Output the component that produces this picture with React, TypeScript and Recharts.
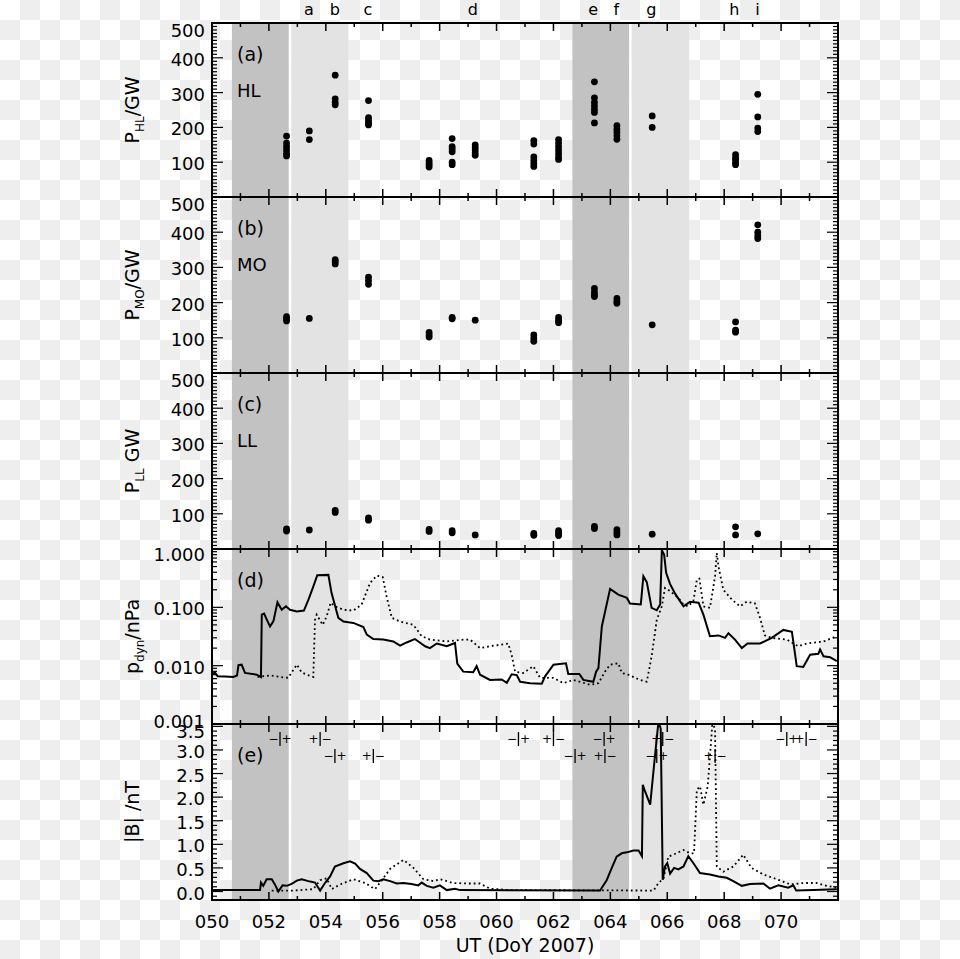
import React from 'react';
import { ComposedChart, Line, Scatter, XAxis, YAxis, ReferenceArea, ReferenceDot } from 'recharts';

const FONT = '"DejaVu Sans", "Liberation Sans", sans-serif';
const W = 960;
const H = 959;
const PLOT_LEFT = 212;
const PLOT_RIGHT = 838;

// ---------------- axes / labels ----------------
const dayDomain: [number, number] = [50, 72];
const dayLabelTicks = [50, 52, 54, 56, 58, 60, 62, 64, 66, 68, 70];
const powerLabelTicks = [100, 200, 300, 400, 500];
const pdynLabelTicks = [0.001, 0.01, 0.1, 1];
const bLabelTicks = [0, 0.5, 1, 1.5, 2, 2.5, 3, 3.5];

// shaded intervals (DoY)
const darkBands = [[50.7, 52.7], [62.665, 64.66]];
const gapBands = [[52.7, 52.785], [64.66, 64.75]];
const lightBands = [[52.785, 54.79], [64.75, 66.77]];

const eventLetters = ['a', 'b', 'c', 'd', 'e', 'f', 'g', 'h', 'i'];
const eventDays = [53.41, 54.32, 55.48, 59.17, 63.4, 64.21, 65.44, 68.36, 69.17];

// ---------------- power observations ----------------
const obsDays = [52.62, 53.42, 54.33, 55.5, 57.63, 58.44, 59.25, 61.31, 62.18, 63.44, 64.23, 65.47, 68.4, 69.18];
const hlPower = [
  [175, 155, 145, 135, 125, 118],
  [190, 165],
  [350, 282, 272, 265],
  [277, 228, 220, 213, 207],
  [105, 98, 92, 86],
  [168, 145, 138, 130, 100, 93],
  [150, 142, 135, 127, 120],
  [162, 152, 115, 105, 96, 88],
  [165, 155, 145, 135, 125, 115, 108],
  [331, 285, 272, 262, 252, 243, 213],
  [205, 195, 186, 176, 166],
  [233, 200],
  [122, 113, 106, 99, 93],
  [295, 230, 198, 188],
];
const moPower = [
  [160, 154, 148],
  [155],
  [322, 316, 310],
  [272, 262, 252],
  [115, 108, 102],
  [158, 154],
  [150],
  [108, 98, 90],
  [158, 150, 143],
  [240, 230, 222, 217],
  [212, 204, 198],
  [137],
  [145, 122, 116],
  [421, 400, 390, 382],
];
const llPower = [
  [57, 51],
  [54],
  [110, 104],
  [88, 82],
  [56, 50],
  [52, 46],
  [40],
  [44, 39],
  [52, 45, 38],
  [64, 58],
  [55, 47, 40],
  [42],
  [63, 40],
  [43],
];

// ---------------- dynamic pressure (nPa) ----------------
const pdynSolid: [number, number][] = [
  [50.0, 0.0072], [50.1, 0.0076], [50.2, 0.0066], [50.45, 0.0065], [50.75, 0.0064], [50.88, 0.0068],
  [50.93, 0.0102], [51.04, 0.0104], [51.16, 0.0075], [51.57, 0.007], [51.72, 0.0064], [51.75, 0.075],
  [51.83, 0.078], [51.95, 0.058], [52.04, 0.047], [52.16, 0.058], [52.3, 0.122], [52.45, 0.091],
  [52.6, 0.104], [52.74, 0.091], [52.98, 0.085], [53.23, 0.088], [53.39, 0.136], [53.55, 0.22],
  [53.7, 0.355], [54.09, 0.36], [54.2, 0.177], [54.44, 0.066], [54.62, 0.057], [54.97, 0.054],
  [55.32, 0.046], [55.44, 0.034], [55.67, 0.0286], [56.02, 0.028], [56.37, 0.026], [56.61, 0.022],
  [56.84, 0.025], [57.13, 0.0286], [57.49, 0.0215], [57.66, 0.02], [57.9, 0.024], [58.25, 0.0215],
  [58.54, 0.0245], [58.62, 0.0108], [58.83, 0.0079], [59.18, 0.0077], [59.3, 0.0098], [59.42, 0.007],
  [59.77, 0.0057], [60.18, 0.0058], [60.36, 0.0051], [60.53, 0.0071], [60.71, 0.0069], [60.83, 0.0053],
  [61.18, 0.005], [61.59, 0.0049], [61.7, 0.0065], [62.0, 0.0104], [62.44, 0.011], [62.52, 0.0072],
  [62.91, 0.0072], [63.05, 0.0057], [63.4, 0.0053], [63.5, 0.0079], [63.58, 0.0091], [63.7, 0.047],
  [63.99, 0.207], [64.28, 0.165], [64.58, 0.145], [64.69, 0.116], [65.07, 0.112], [65.16, 0.341],
  [65.28, 0.27], [65.45, 0.098], [65.63, 0.089], [65.75, 0.112], [65.81, 0.95], [65.89, 0.8],
  [65.96, 0.39], [66.1, 0.25], [66.28, 0.17], [66.57, 0.104], [66.8, 0.125], [67.1, 0.12],
  [67.27, 0.075], [67.5, 0.032], [67.8, 0.033], [68.03, 0.03], [68.15, 0.036], [68.38, 0.028],
  [68.62, 0.02], [68.82, 0.024], [69.26, 0.024], [69.67, 0.03], [70.08, 0.041], [70.38, 0.038],
  [70.55, 0.0098], [70.78, 0.0095], [71.02, 0.0154], [71.31, 0.016], [71.37, 0.019], [71.49, 0.0145],
  [71.72, 0.014], [71.96, 0.012],
];
const pdynDotted: [number, number][] = [
  [51.6, 0.0064], [52.04, 0.0068], [52.39, 0.0064], [52.68, 0.0062], [52.98, 0.0104], [53.15, 0.0077],
  [53.33, 0.007], [53.56, 0.0064], [53.62, 0.061], [53.68, 0.075], [53.89, 0.05], [54.03, 0.07],
  [54.17, 0.12], [54.32, 0.104], [54.62, 0.091], [54.97, 0.088], [55.26, 0.112], [55.55, 0.26],
  [55.79, 0.35], [56.0, 0.33], [56.14, 0.15], [56.32, 0.066], [56.61, 0.057], [57.08, 0.05],
  [57.37, 0.032], [57.66, 0.028], [58.25, 0.026], [58.83, 0.028], [59.07, 0.028], [59.42, 0.02],
  [59.77, 0.0215], [60.41, 0.024], [60.53, 0.0154], [60.65, 0.0079], [60.94, 0.0075], [61.29, 0.0098],
  [61.53, 0.0062], [62.0, 0.0062], [62.35, 0.005], [62.7, 0.0057], [63.29, 0.0047], [63.58, 0.005],
  [63.81, 0.0079], [63.99, 0.0104], [64.28, 0.011], [64.4, 0.0075], [64.63, 0.007], [65.04, 0.0057],
  [65.28, 0.0053], [65.45, 0.0144], [65.63, 0.061], [65.81, 0.104], [65.92, 0.215], [66.1, 0.19],
  [66.39, 0.145], [66.57, 0.112], [66.74, 0.104], [66.92, 0.13], [67.04, 0.3], [67.13, 0.31],
  [67.27, 0.104], [67.5, 0.098], [67.68, 0.34], [67.74, 0.86], [67.8, 0.5], [67.97, 0.2],
  [68.27, 0.136], [68.56, 0.104], [68.79, 0.125], [69.08, 0.117], [69.26, 0.066], [69.43, 0.033],
  [69.67, 0.03], [70.2, 0.028], [70.6, 0.0215], [70.9, 0.024], [71.49, 0.026], [71.96, 0.032],
];

// ---------------- |B| (nT) ----------------
const bSolid: [number, number][] = [
  [50.0, 0.03], [51.69, 0.03], [51.72, 0.19], [51.8, 0.12], [51.92, 0.26], [52.1, 0.26],
  [52.21, 0.15], [52.33, 0.0], [52.48, 0.13], [52.63, 0.12], [52.8, 0.16], [52.98, 0.23],
  [53.15, 0.26], [53.45, 0.21], [53.62, 0.19], [53.8, 0.02], [53.97, 0.18], [54.15, 0.32],
  [54.32, 0.53], [54.62, 0.6], [54.85, 0.64], [55.03, 0.59], [55.2, 0.48], [55.44, 0.39],
  [55.67, 0.23], [55.85, 0.22], [56.02, 0.26], [56.26, 0.22], [56.49, 0.17], [56.73, 0.18],
  [57.01, 0.16], [57.25, 0.13], [57.37, 0.19], [57.55, 0.12], [57.78, 0.08], [58.01, 0.13],
  [58.25, 0.03], [58.54, 0.06], [58.72, 0.03], [63.64, 0.02], [63.7, 0.08], [63.87, 0.24],
  [64.05, 0.5], [64.22, 0.74], [64.4, 0.81], [64.58, 0.83], [64.81, 0.87], [64.99, 0.87],
  [65.11, 0.75], [65.14, 2.26], [65.22, 2.12], [65.4, 1.84], [65.52, 2.58], [65.69, 3.6],
  [65.77, 3.45], [65.84, 0.25], [65.92, 0.53], [66.0, 0.6], [66.1, 0.38], [66.24, 0.5],
  [66.39, 0.47], [66.57, 0.53], [66.74, 0.75], [66.92, 0.6], [67.15, 0.39], [67.5, 0.36],
  [67.8, 0.32], [68.09, 0.29], [68.32, 0.22], [68.62, 0.12], [68.91, 0.16], [69.38, 0.17],
  [69.61, 0.06], [69.9, 0.13], [70.25, 0.08], [70.43, 0.13], [70.53, 0.02], [71.13, 0.03],
  [71.96, 0.05],
];
const bDotted: [number, number][] = [
  [52.1, 0.02], [52.86, 0.02], [53.56, 0.05], [53.8, 0.24], [54.03, 0.28], [54.21, 0.05],
  [54.5, 0.15], [54.97, 0.26], [55.38, 0.18], [55.73, 0.05], [55.97, 0.24], [56.26, 0.48],
  [56.73, 0.67], [57.08, 0.5], [57.43, 0.26], [57.78, 0.22], [58.01, 0.26], [58.48, 0.18],
  [58.95, 0.17], [59.42, 0.17], [59.77, 0.06], [60.47, 0.03], [65.52, 0.02], [65.69, 0.18],
  [65.87, 0.28], [66.04, 0.74], [66.28, 0.8], [66.57, 0.88], [66.8, 0.81], [66.94, 0.81],
  [67.04, 2.16], [67.15, 2.23], [67.27, 1.84], [67.42, 2.23], [67.5, 2.86], [67.59, 3.6],
  [67.68, 3.43], [67.74, 0.53], [67.97, 0.42], [68.32, 0.53], [68.67, 0.78], [68.96, 0.5],
  [69.38, 0.36], [69.85, 0.26], [70.32, 0.15], [70.78, 0.18], [71.25, 0.18], [71.6, 0.12],
  [71.96, 0.08],
];

// magnetopause crossing markers: day, row (1 upper / 2 lower), sense
const crossDays = [52.39, 53.8, 60.77, 62.0, 63.78, 65.84, 70.2, 70.88, 54.32, 55.67, 62.76, 63.81, 65.63, 67.68];
const crossRows = [1, 1, 1, 1, 1, 1, 1, 1, 2, 2, 2, 2, 2, 2];
const crossSigns = ['-+', '+-', '-+', '+-', '-+', '+-', '-+', '+-', '-+', '+-', '-+', '+-', '-+', '+-'];

// ---------------- helpers ----------------
const toPts = (pairs: [number, number][]) => pairs.map(([d, v]) => ({ d, v }));
const flatten = (days: number[], groups: number[][]) =>
  groups.flatMap((g, i) => g.map((v) => ({ d: days[i], v })));

const dayTicks = Array.from({ length: 23 }, (_, i) => 50 + i);
const powerTicks = Array.from({ length: 51 }, (_, i) => i * 10);
const pdynTicks: number[] = [];
[0.001, 0.01, 0.1].forEach((dec) => {
  for (let k = 1; k <= 9; k++) pdynTicks.push(+(k * dec).toPrecision(3));
});
pdynTicks.push(1);
const bTicks = Array.from({ length: 37 }, (_, i) => +((i - 1) * 0.1).toFixed(1));

const near = (a: number, b: number) => Math.abs(a - b) < 1e-6;

// x tick: draws the inward tick on both the bottom and top edge of the panel
function XTick(props: any) {
  const { x, payload, withLabels, topY, botY } = props;
  const v = Math.round(payload.value);
  const major = v % 2 === 0;
  const len = major ? 8 : 4;
  const showLabel = withLabels && dayLabelTicks.includes(v);
  return (
    <g>
      <line x1={x} x2={x} y1={botY} y2={botY - len} stroke="#000" strokeWidth={1.5} />
      <line x1={x} x2={x} y1={topY} y2={topY + len} stroke="#000" strokeWidth={1.5} />
      {showLabel && (
        <text x={x} y={botY + 28} textAnchor="middle" fontSize={18} fontFamily={FONT} fill="#000">
          {String(v).padStart(3, '0')}
        </text>
      )}
    </g>
  );
}

// y tick: inward ticks on the left and right edges, label on the left
function YTick(props: any) {
  const { y, payload, isMajor, labels, fmt, dyFor } = props;
  const v = payload.value;
  const major = isMajor(v);
  const len = major ? 11 : 5;
  const lab = labels.some((l: number) => near(l, v));
  return (
    <g>
      <line x1={PLOT_LEFT} x2={PLOT_LEFT + len} y1={y} y2={y} stroke="#000" strokeWidth={1.2} />
      <line x1={PLOT_RIGHT} x2={PLOT_RIGHT - len} y1={y} y2={y} stroke="#000" strokeWidth={1.2} />
      {lab && (
        <text x={PLOT_LEFT - 7} y={y + dyFor(v)} textAnchor="end" dominantBaseline="central" fontSize={18} fontFamily={FONT} fill="#000">
          {fmt(v)}
        </text>
      )}
    </g>
  );
}

const Dot = (p: any) => <circle cx={p.cx} cy={p.cy} r={3.4} fill="#000" />;

const CrossMark = (p: any) => {
  const { cx, cy, payload } = p;
  const [l, r] = payload.s === '-+' ? ['\u2212', '+'] : ['+', '\u2212'];
  return (
    <g fontFamily={FONT} fill="#000">
      <text x={cx - 6.5} y={cy} textAnchor="middle" dominantBaseline="central" fontSize={12}>{l}</text>
      <line x1={cx} x2={cx} y1={cy - 7} y2={cy + 7} stroke="#000" strokeWidth={1.3} />
      <text x={cx + 6.5} y={cy} textAnchor="middle" dominantBaseline="central" fontSize={12}>{r}</text>
    </g>
  );
};

type PanelProps = {
  top: number;
  bottom: number;
  yDomain: [number, number];
  yScale?: 'linear' | 'log';
  yTicks: number[];
  isMajor: (v: number) => boolean;
  yLabels: number[];
  fmt: (v: number) => string;
  dyFor: (v: number) => number;
  bottomLabels?: boolean;
  tag: string;
  name?: string;
  title: React.ReactNode;
  children?: React.ReactNode;
};

const AX = 1; // axis box thickness used for layout
const TITLE_X = 139;

function Panel(props: PanelProps) {
  const { top, bottom, yDomain, yScale = 'linear', yTicks, isMajor, yLabels, fmt, dyFor, bottomLabels, tag, name, title, children } = props;
  const yTickCommon = { isMajor, labels: yLabels, fmt, dyFor };
  const mid = (top + bottom) / 2;
  return (
    <div style={{ position: 'absolute', left: 0, top: 0 }}>
      <ComposedChart
        width={W}
        height={H}
        margin={{ top, bottom: H - bottom - AX, left: PLOT_LEFT - AX, right: W - PLOT_RIGHT }}
      >
        {darkBands.map(([a, b], i) => (
          <ReferenceArea key={'dk' + i} xAxisId="b" yAxisId="l" x1={a} x2={b} fill="#c2c2c2" fillOpacity={1} stroke="none" />
        ))}
        {gapBands.map(([a, b], i) => (
          <ReferenceArea key={'gp' + i} xAxisId="b" yAxisId="l" x1={a} x2={b} fill="#ffffff" fillOpacity={1} stroke="none" />
        ))}
        {lightBands.map(([a, b], i) => (
          <ReferenceArea key={'lt' + i} xAxisId="b" yAxisId="l" x1={a} x2={b} fill="#e3e3e3" fillOpacity={1} stroke="none" />
        ))}
        {children}
        {/* panel tag and name, anchored to the plot's top-left corner */}
        <ReferenceDot
          xAxisId="b"
          yAxisId="l"
          x={dayDomain[0]}
          y={yDomain[1]}
          r={0}
          ifOverflow="visible"
          shape={(p: any) => (
            <g fontFamily={FONT} fill="#000">
              <text x={p.cx + 25} y={p.cy + 38} fontSize={19}>{tag}</text>
              {name && <text x={p.cx + 25} y={p.cy + 74} fontSize={18}>{name}</text>}
            </g>
          )}
        />
        <text transform={`translate(${TITLE_X}, ${mid}) rotate(-90)`} textAnchor="middle" fontSize={19} fontFamily={FONT} fill="#000">
          {title}
        </text>
        <XAxis
          xAxisId="b"
          dataKey="d"
          type="number"
          domain={dayDomain}
          allowDataOverflow
          orientation="bottom"
          height={AX}
          ticks={dayTicks}
          interval={0}
          tickSize={0}
          tickMargin={0}
          tickLine={false}
          axisLine={false}
          tick={(p: any) => <XTick {...p} withLabels={bottomLabels} topY={top} botY={bottom} />}
        />
        <YAxis
          yAxisId="l"
          dataKey="v"
          type="number"
          scale={yScale}
          domain={yDomain}
          allowDataOverflow
          orientation="left"
          width={AX}
          ticks={yTicks}
          interval={0}
          tickSize={0}
          tickMargin={0}
          tickLine={false}
          axisLine={false}
          tick={(p: any) => <YTick {...p} {...yTickCommon} />}
        />
        {/* plot frame drawn from the axis domain corners */}
        <ReferenceArea
          xAxisId="b"
          yAxisId="l"
          x1={dayDomain[0]}
          x2={dayDomain[1]}
          y1={yDomain[0]}
          y2={yDomain[1]}
          fill="none"
          stroke="#000"
          strokeWidth={2}
          ifOverflow="visible"
        />
      </ComposedChart>
    </div>
  );
}

const powerMajor = (v: number) => v % 100 === 0;
const logMajor = (v: number) => Math.abs(Math.log10(v) - Math.round(Math.log10(v))) < 1e-6;
const bMajor = (v: number) => Math.abs(v * 2 - Math.round(v * 2)) < 1e-6;

export default function App() {
  const tops = [23, 197, 373, 549, 724];
  const bots = [197, 373, 549, 724, 900];
  const crossPts = crossDays.map((d, i) => ({ d, v: crossRows[i] === 1 ? 3.23 : 2.87, s: crossSigns[i] }));
  const powerCommon = {
    yDomain: [0, 500] as [number, number],
    yTicks: powerTicks,
    isMajor: powerMajor,
    yLabels: powerLabelTicks,
    fmt: (v: number) => String(v),
    dyFor: (v: number) => (v === 500 ? 7 : 1.5),
  };
  return (
    <div
      style={{
        position: 'absolute',
        left: 0,
        top: 0,
        width: W,
        height: H,
        background: 'repeating-conic-gradient(#eeeeee 0% 25%, #ffffff 0% 50%) 0 0 / 40px 40px',
        overflow: 'hidden',
      }}
    >
      <Panel top={tops[0]} bottom={bots[0]} {...powerCommon} tag="(a)" name="HL"
        title={<>P<tspan fontSize={12} dy={5}>HL</tspan><tspan dy={-5}>/GW</tspan></>}>
        <Scatter xAxisId="b" yAxisId="l" data={flatten(obsDays, hlPower)} dataKey="v" shape={Dot} isAnimationActive={false} />
        {eventDays.map((d, i) => (
          <ReferenceDot
            key={'ev' + i}
            xAxisId="b"
            yAxisId="l"
            x={d}
            y={500}
            r={0}
            ifOverflow="visible"
            shape={(p: any) => (
              <text x={p.cx} y={p.cy - 8} textAnchor="middle" fontSize={16} fontFamily={FONT} fill="#000">
                {eventLetters[i]}
              </text>
            )}
          />
        ))}
      </Panel>
      <Panel top={tops[1]} bottom={bots[1]} {...powerCommon} tag="(b)" name="MO"
        title={<>P<tspan fontSize={12} dy={5}>MO</tspan><tspan dy={-5}>/GW</tspan></>}>
        <Scatter xAxisId="b" yAxisId="l" data={flatten(obsDays, moPower)} dataKey="v" shape={Dot} isAnimationActive={false} />
      </Panel>
      <Panel top={tops[2]} bottom={bots[2]} {...powerCommon} tag="(c)" name="LL"
        title={<>P<tspan fontSize={12} dy={5}>LL</tspan><tspan dy={-5}> GW</tspan></>}>
        <Scatter xAxisId="b" yAxisId="l" data={flatten(obsDays, llPower)} dataKey="v" shape={Dot} isAnimationActive={false} />
      </Panel>
      <Panel
        top={tops[3]}
        bottom={bots[3]}
        yDomain={[0.001, 1]}
        yScale="log"
        yTicks={pdynTicks}
        isMajor={logMajor}
        yLabels={pdynLabelTicks}
        fmt={(v) => v.toFixed(3)}
        dyFor={(v) => (near(v, 1) ? 5.5 : near(v, 0.001) ? -3 : 1.5)}
        tag="(d)"
        title={<>p<tspan fontSize={12} dy={5}>dyn</tspan><tspan dy={-5}>/nPa</tspan></>}
      >
        <Line xAxisId="b" yAxisId="l" data={toPts(pdynDotted)} dataKey="v" type="linear" stroke="#000" strokeWidth={1.8} strokeDasharray="1.8 3" dot={false} isAnimationActive={false} />
        <Line xAxisId="b" yAxisId="l" data={toPts(pdynSolid)} dataKey="v" type="linear" stroke="#000" strokeWidth={2} dot={false} isAnimationActive={false} />
      </Panel>
      <Panel
        top={tops[4]}
        bottom={bots[4]}
        yDomain={[-0.18, 3.55]}
        yTicks={bTicks}
        isMajor={bMajor}
        yLabels={bLabelTicks}
        fmt={(v) => v.toFixed(1)}
        dyFor={(v) => (near(v, 3.5) ? 5 : 1.5)}
        bottomLabels
        tag="(e)"
        title={<>|B| /nT</>}
      >
        <Line xAxisId="b" yAxisId="l" data={toPts(bDotted)} dataKey="v" type="linear" stroke="#000" strokeWidth={1.8} strokeDasharray="1.8 3" dot={false} isAnimationActive={false} />
        <Line xAxisId="b" yAxisId="l" data={toPts(bSolid)} dataKey="v" type="linear" stroke="#000" strokeWidth={2} dot={false} isAnimationActive={false} />
        <Scatter xAxisId="b" yAxisId="l" data={crossPts} dataKey="v" shape={CrossMark} isAnimationActive={false} />
        <text x={525} y={952} textAnchor="middle" fontSize={19} fontFamily={FONT} fill="#000">UT (DoY 2007)</text>
      </Panel>
    </div>
  );
}
